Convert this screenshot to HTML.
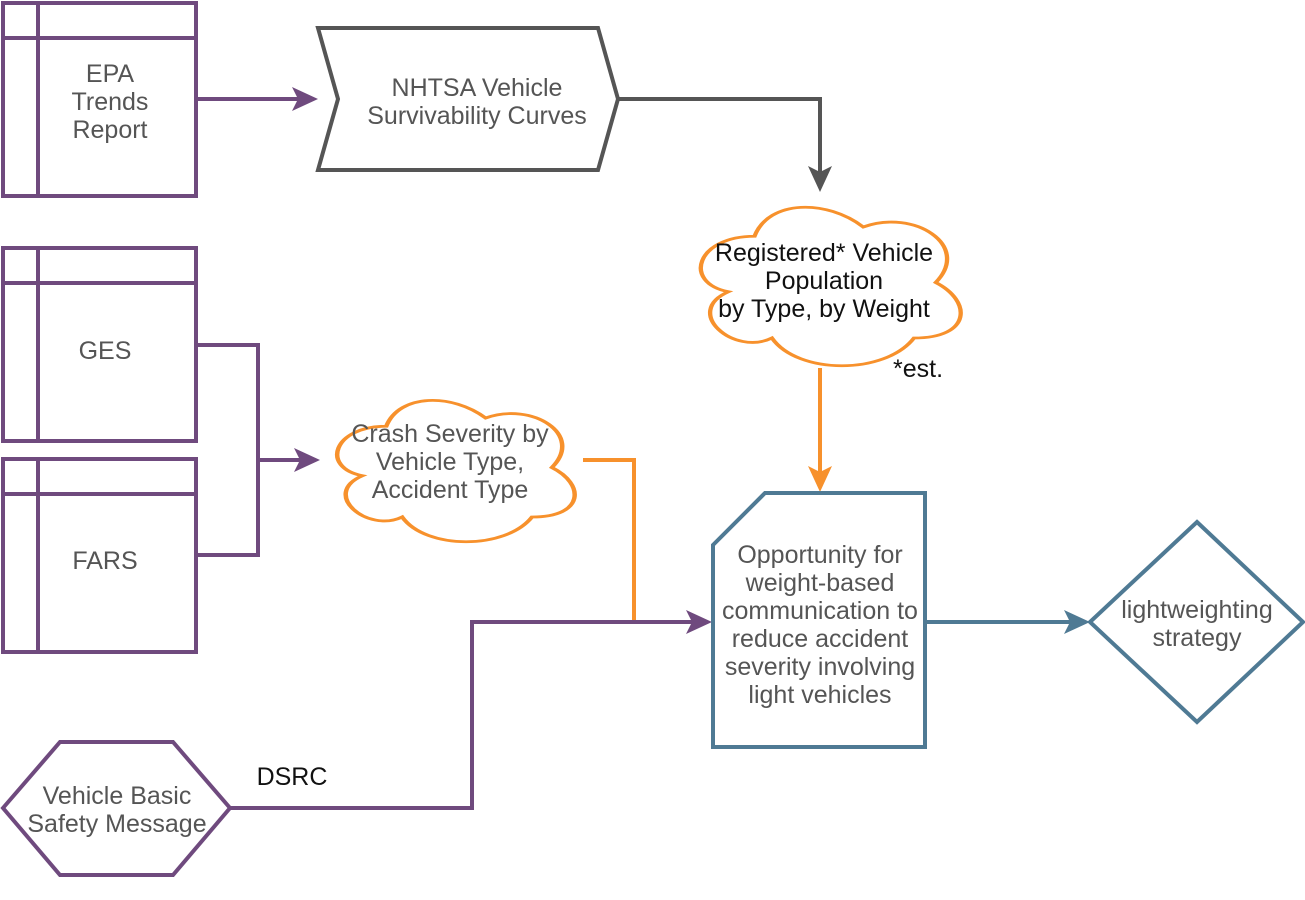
<!DOCTYPE html>
<html><head><meta charset="utf-8"><style>
html,body{margin:0;padding:0;background:#fff;}
svg{display:block;font-family:"Liberation Sans",sans-serif;}
</style></head><body>
<svg width="1305" height="900" viewBox="0 0 1305 900" xmlns="http://www.w3.org/2000/svg">
<defs>
<path id="cl" d="M0.25,0.25 C0.05,0.25 0,0.5 0.16,0.55 C0,0.66 0.18,0.9 0.31,0.8 C0.4,1 0.7,1 0.8,0.8 C1,0.8 1,0.6 0.875,0.5 C1,0.3 0.8,0.1 0.625,0.2 C0.5,0.05 0.3,0.05 0.25,0.25 Z"/>
</defs>
<g fill="none" stroke="#6f4a7e" stroke-width="4">
<rect x="3" y="3" width="193" height="193"/><line x1="38" y1="3" x2="38" y2="196"/><line x1="3" y1="38" x2="196" y2="38"/>
<rect x="3" y="248" width="193" height="193"/><line x1="38" y1="248" x2="38" y2="441"/><line x1="3" y1="283" x2="196" y2="283"/>
<rect x="3" y="459" width="193" height="193"/><line x1="38" y1="459" x2="38" y2="652"/><line x1="3" y1="494" x2="196" y2="494"/>
<polygon points="3,808 60,742 173,742 230,808 173,875 60,875"/>
<polyline points="196,99 300,99"/>
<polyline points="196,345 258,345 258,555 196,555"/>
<polyline points="258,460 302,460"/>
<polyline points="230,808 472,808 472,622 692,622"/>
</g>
<g fill="#6f4a7e">
<polygon points="318,99 292,87 298,99 292,111"/>
<polygon points="320,460 294,448 300,460 294,472"/>
<polygon points="712,622 686,610 692,622 686,634"/>
</g>
<polygon points="318,28 598,28 618,99 598,170 318,170 338,99" fill="none" stroke="#555" stroke-width="4"/>
<polyline points="618,99 820,99 820,175" fill="none" stroke="#555" stroke-width="4"/>
<polygon points="820,192 808,166 820,172 832,166" fill="#555"/>
<g fill="none" stroke="#f7912c" stroke-width="4">
<use href="#cl" transform="translate(682,190) scale(290,185)" style="stroke-width:0.015"/>
<use href="#cl" transform="translate(320,385) scale(265,165)" style="stroke-width:0.017"/>
<polyline points="820,368 820,475"/>
<polyline points="583,460 634,460 634,620"/>
</g>
<polygon points="820,492 808,466 820,472 832,466" fill="#f7912c"/>
<g fill="none" stroke="#4f7a94" stroke-width="4">
<polygon points="713,545 765,493 925,493 925,747 713,747"/>
<polyline points="925,622 1072,622"/>
<polygon points="1197,522 1303,622 1197,722 1090,622"/>
</g>
<polygon points="1090,622 1064,610 1070,622 1064,634" fill="#4f7a94"/>
<g font-size="25" fill="#555" text-anchor="middle">
<text x="110" y="82">EPA</text><text x="110" y="110">Trends</text><text x="110" y="138">Report</text>
<text x="105" y="359">GES</text><text x="105" y="569">FARS</text>
<text x="477" y="96">NHTSA Vehicle</text><text x="477" y="124">Survivability Curves</text>
<text x="450" y="442">Crash Severity by</text><text x="450" y="470">Vehicle Type,</text><text x="450" y="498">Accident Type</text>
<text x="820" y="563">Opportunity for</text><text x="820" y="591">weight-based</text><text x="820" y="619">communication to</text><text x="820" y="647">reduce accident</text><text x="820" y="675">severity involving</text><text x="820" y="703">light vehicles</text>
<text x="1197" y="618">lightweighting</text><text x="1197" y="646">strategy</text>
<text x="117" y="804">Vehicle Basic</text><text x="117" y="832">Safety Message</text>
</g>
<g font-size="25" fill="#111" text-anchor="middle">
<text x="824" y="261">Registered* Vehicle</text><text x="824" y="289">Population</text><text x="824" y="317">by Type, by Weight</text>
<text x="918" y="377">*est.</text>
<text x="292" y="785">DSRC</text>
</g>
</svg>
</body></html>
